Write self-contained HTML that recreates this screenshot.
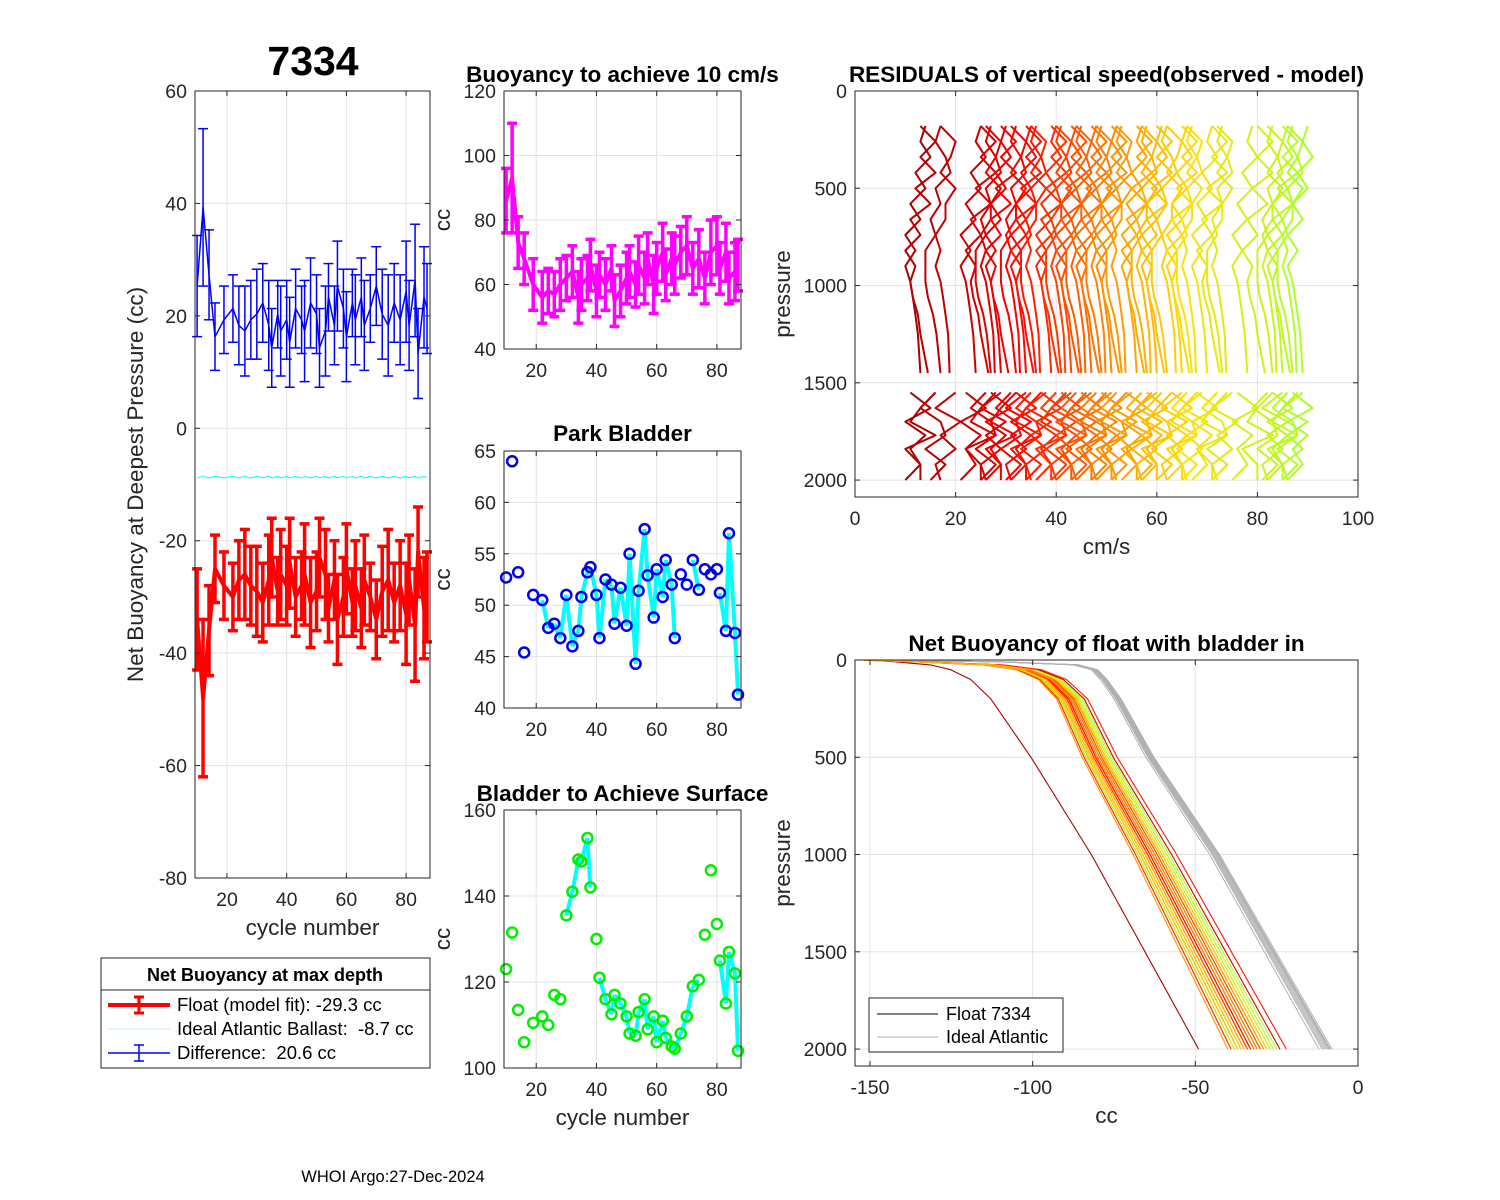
<!DOCTYPE html>
<html><head><meta charset="utf-8"><style>
html,body{margin:0;padding:0;background:#fff}
svg{display:block;font-family:"Liberation Sans",sans-serif}
</style></head><body>
<svg id="fig" width="1500" height="1200" viewBox="0 0 1500 1200" xmlns="http://www.w3.org/2000/svg">
<rect width="1500" height="1200" fill="#fff"/>
<text x="313" y="75" font-size="41" font-weight="bold" text-anchor="middle">7334</text>
<text x="393" y="1182" font-size="16.5" text-anchor="middle">WHOI Argo:27-Dec-2024</text>
</svg>
<script>
// ---------- data ----------
const cycles = [10,12,14,16,19,22,24,26,28,30,32,34,35,37,38,40,41,43,45,46,48,50,51,53,54,56,57,59,60,62,63,65,66,68,70,72,74,76,78,80,81,83,84,86,87];
const floatFit = [-34,-48,-36,-25,-28,-30,-27,-26,-28,-29,-31,-27,-23,-29,-26,-28,-24,-30,-28,-26,-31,-29,-23,-26,-32,-27,-34,-30,-25,-31,-28,-32,-27,-30,-34,-29,-27,-31,-28,-33,-27,-35,-22,-32,-30];
const floatErr = [9,14,8,6,6,6,7,8,7,8,7,8,7,6,8,7,8,7,6,9,8,7,7,8,6,7,8,7,8,6,8,7,8,6,7,8,9,7,8,9,8,10,8,9,8];
const idealBallast = -8.7;
const buoy10 = [86,93,73,68,60,56,58,57,60,62,64,56,60,62,66,58,63,60,65,55,58,62,64,60,66,62,68,60,65,70,63,68,66,70,72,65,68,62,70,72,65,70,62,64,66];
const buoy10Err = [10,17,8,8,8,8,7,7,8,7,8,8,8,7,8,8,7,8,7,8,8,8,8,7,9,8,8,9,8,9,8,8,9,8,9,8,9,8,10,9,8,9,8,9,8];
const parkBladder = [52.7,64,53.2,45.4,51,50.5,47.8,48.2,46.8,51,46,47.5,50.8,53.2,53.7,51,46.8,52.5,52,48.2,51.7,48,55,44.3,51.4,57.4,52.9,48.8,53.5,50.8,54.4,52,46.8,53,52,54.4,51.5,53.5,53,53.5,51.2,47.5,57,47.3,41.3];
const parkLink = [0,0,0,0,0,1,1,1,1,1,1,1,1,1,1,1,1,1,1,1,1,1,1,1,1,1,1,1,1,1,1,1,1,0,0,1,1,0,0,0,1,1,1,1,1];
const surfBladder = [123,131.5,113.5,106,110.5,112,110,117,116,135.5,141,148.5,148,153.5,142,130,121,116,112.5,117,115,112,108,107.5,113,116,109,112,106,111,107,105,104.5,108,112,119,120.5,131,146,133.5,125,115,127,122,104];
const surfLink = [0,0,0,0,0,0,0,0,0,1,1,1,1,1,1,0,1,1,1,1,1,1,1,1,1,1,1,1,1,1,1,1,1,1,1,1,1,0,0,0,1,1,1,1,1];
// residual profiles
const resOffset = [11,12,15,17,22,24,25,26,27,28,30,31,32,33,34,35,37,38,39,40,41,42,43,44,45,46,47,48,49,50,51,52,54,55,56,57,58,59,60,62,63,64,65,66,68,70,71,72,76,79,81,82,83,84,85,86,87];
const resTopP = [180,260,340,420,500,580,660,740,820,900,980,1060,1150,1250,1450];
const resTopA = [3,2,4,1,3,0,2,-1,1,-1,0,0.5,1,1.5,2];
const resTopB = [1,4,1,4,0,3,-1,1,-2,0,-1,-0.5,0.5,1,2.5];
const resTopC = [2,1,3,4,1,2,0,1,-1,-1,-1,-0.5,0.5,1.2,2];
const resTopD = [0,3,2,0,3,1,1,-1,0,-1,0,0.5,1,1.5,1.8];
const resBotP = [1550,1630,1700,1770,1840,1920,2000];
const resBotA = [3,-1,4,0,3,-1,0];
const resBotB = [0,4,-1,3,0,2,-1];
const resBotC = [4,1,-1,4,-2,1,1];
const resBotD = [1,-2,2,3,-1,3,0];
// net buoyancy curves
const nbP = [0,10,25,50,100,200,500,1000,1500,2000];
const nbShape = [0,0.15,0.33,0.42,0.48,0.53,0.6,0.74,0.87,1];
const idealShape = [0,0.3,0.46,0.5,0.52,0.55,0.62,0.76,0.88,1];
const outlierShape = [0,0.1,0.2,0.26,0.32,0.38,0.5,0.68,0.84,1];
const nbStart = -152;
const nbEnd = [-49,-38,-36,-34,-40,-33,-37,-35,-31,-39,-36,-34,-32,-38,-35,-30,-37,-33,-29,-36,-34,-31,-39,-35,-28,-33,-37,-32,-30,-26,-34,-36,-29,-31,-27,-33,-35,-25,-30,-28,-24,-32,-27,-22,-29];
const idealEnd = [-8,-9,-10,-9.5,-8.5,-11,-10.5,-9,-12,-8.8];

// ---------- helpers ----------
const NS="http://www.w3.org/2000/svg";
const fig=document.getElementById('fig');
function mk(tag,attrs,parent){const e=document.createElementNS(NS,tag);for(const k in attrs)e.setAttribute(k,attrs[k]);(parent||fig).appendChild(e);return e;}
function txt(s,x,y,size,anchor,parent,extra){const t=mk('text',Object.assign({x:x,y:y,'font-size':size,'text-anchor':anchor||'middle',fill:'#262626'},extra||{}),parent);t.textContent=s;return t;}
function cmap(t){const stops=[[0,170,0,0],[0.2,255,0,0],[0.5,255,140,0],[0.75,255,225,0],[1,170,255,40]];
 for(let i=1;i<stops.length;i++){if(t<=stops[i][0]){const a=stops[i-1],b=stops[i],f=(t-a[0])/(b[0]-a[0]);return `rgb(${Math.round(a[1]+(b[1]-a[1])*f)},${Math.round(a[2]+(b[2]-a[2])*f)},${Math.round(a[3]+(b[3]-a[3])*f)})`;}}return 'rgb(170,255,40)';}
const TICK=19.5, LAB=22.5, TTL=22.5;
function axes(name,o){
 const g=mk('g',{},fig);
 
 
 const sx=v=>o.x0+(v-o.xmin)/(o.xmax-o.xmin)*(o.x1-o.x0);
 const sy=o.yrev?v=>o.y0+(v-o.ymin)/(o.ymax-o.ymin)*(o.y1-o.y0):v=>o.y1-(v-o.ymin)/(o.ymax-o.ymin)*(o.y1-o.y0);
 mk('rect',{x:o.x0,y:o.y0,width:o.x1-o.x0,height:o.y1-o.y0,fill:'#fff'},g);
 const grid=mk('g',{stroke:'#e3e3e3','stroke-width':1},g);
 o.xt.forEach(v=>{const x=sx(v);mk('line',{x1:x,x2:x,y1:o.y0,y2:o.y1},grid);});
 o.yt.forEach(v=>{const y=sy(v);mk('line',{x1:o.x0,x2:o.x1,y1:y,y2:y},grid);});
 const plot=mk('g',{},g);
 const fr=mk('g',{},g);
 return {g,plot,sx,sy,finish(){
  mk('rect',{x:o.x0,y:o.y0,width:o.x1-o.x0,height:o.y1-o.y0,fill:'none',stroke:'#262626','stroke-width':1},fr);
  o.xt.forEach(v=>{const x=sx(v);mk('line',{x1:x,x2:x,y1:o.y1,y2:o.y1-5,stroke:'#262626'},fr);mk('line',{x1:x,x2:x,y1:o.y0,y2:o.y0+5,stroke:'#262626'},fr);
   const t=txt(String(v),x,o.y1+28,TICK,'middle',fr);});
  o.yt.forEach(v=>{const y=sy(v);mk('line',{x1:o.x0,x2:o.x0+5,y1:y,y2:y,stroke:'#262626'},fr);mk('line',{x1:o.x1,x2:o.x1-5,y1:y,y2:y,stroke:'#262626'},fr);
   const t=txt(String(v),o.x0-8,y+7,TICK,'end',fr);});
  if(o.title){const t=txt(o.title,(o.x0+o.x1)/2,o.ty,TTL,'middle',fr,{'font-weight':'bold',fill:'#000'});}
  if(o.xl){const t=txt(o.xl,(o.x0+o.x1)/2,o.y1+57,LAB,'middle',fr);}
  if(o.yl){const cy=(o.y0+o.y1)/2;const t=txt(o.yl,o.ylx,cy,LAB,'middle',fr,{transform:`rotate(-90 ${o.ylx} ${cy})`});}
 }};
}
function errbar(p,x,y,e,color,w,cap,sx,sy,nm){
 const g=mk('g',{stroke:color,'stroke-width':w,fill:'none'},p);
 
 
 const X=sx(x);
 mk('line',{x1:X,x2:X,y1:sy(y-e),y2:sy(y+e)},g);
 mk('line',{x1:X-cap,x2:X+cap,y1:sy(y-e),y2:sy(y-e)},g);
 mk('line',{x1:X-cap,x2:X+cap,y1:sy(y+e),y2:sy(y+e)},g);
}
function poly(p,pts,color,w,nm){const e=mk('polyline',{points:pts.map(q=>q[0].toFixed(1)+','+q[1].toFixed(1)).join(' '),fill:'none',stroke:color,'stroke-width':w,'stroke-linejoin':'round'},p);
 
 
 return e;}

// ---------- panel 1 ----------
{const A=axes('net-buoyancy-panel',{x0:195,x1:430,y0:91,y1:878,xmin:9.3,xmax:88,ymin:-80,ymax:60,xt:[20,40,60,80],yt:[-80,-60,-40,-20,0,20,40,60],xl:'cycle number',yl:'Net Buoyancy at Deepest Pressure (cc)',ylx:143});
 const diff=floatFit.map(v=>idealBallast-v);
 poly(A.plot,cycles.map((c,i)=>[A.sx(c),A.sy(diff[i])]),'#0000ff',1.5,'difference-line');
 cycles.forEach((c,i)=>errbar(A.plot,c,diff[i],floatErr[i],'#0000ff',1.5,5,A.sx,A.sy,'difference-errorbar'));
 poly(A.plot,cycles.map((c,i)=>[A.sx(c),A.sy(idealBallast+(i%2?0.15:-0.15))]),'#00ffff',1,'ideal-ballast-line');
 poly(A.plot,cycles.map((c,i)=>[A.sx(c),A.sy(floatFit[i])]),'#ff0000',4,'float-fit-line');
 cycles.forEach((c,i)=>errbar(A.plot,c,floatFit[i],floatErr[i],'#ff0000',3.5,5,A.sx,A.sy,'float-fit-errorbar'));
 A.finish();}

// ---------- panel 2 ----------
{const A=axes('buoyancy-10cms-panel',{x0:504,x1:741,y0:91,y1:349,xmin:9.3,xmax:88,ymin:40,ymax:120,xt:[20,40,60,80],yt:[40,60,80,100,120],title:'Buoyancy to achieve 10 cm/s',ty:82,yl:'cc',ylx:450});
 poly(A.plot,cycles.map((c,i)=>[A.sx(c),A.sy(buoy10[i])]),'#ff00ff',4,'buoyancy-line');
 cycles.forEach((c,i)=>errbar(A.plot,c,buoy10[i],buoy10Err[i],'#ff00ff',3.5,5,A.sx,A.sy,'buoyancy-errorbar'));
 A.finish();}

// ---------- panel 3 ----------
{const A=axes('park-bladder-panel',{x0:504,x1:741,y0:451,y1:708,xmin:9.3,xmax:88,ymin:40,ymax:65,xt:[20,40,60,80],yt:[40,45,50,55,60,65],title:'Park Bladder',ty:441,yl:'cc',ylx:450});
 for(let i=1;i<cycles.length;i++){if(parkLink[i]&&parkLink[i-1])poly(A.plot,[[A.sx(cycles[i-1]),A.sy(parkBladder[i-1])],[A.sx(cycles[i]),A.sy(parkBladder[i])]],'#00ffff',4,'park-line-segment');}
 cycles.forEach((c,i)=>{const e=mk('circle',{cx:A.sx(c),cy:A.sy(parkBladder[i]),r:5,fill:'none',stroke:'#0000ee','stroke-width':2.5},A.plot);
  
  });
 A.finish();}

// ---------- panel 4 ----------
{const A=axes('surface-bladder-panel',{x0:504,x1:741,y0:810,y1:1068,xmin:9.3,xmax:88,ymin:100,ymax:160,xt:[20,40,60,80],yt:[100,120,140,160],title:'Bladder to Achieve Surface',ty:801,xl:'cycle number',yl:'cc',ylx:450});
 for(let i=1;i<cycles.length;i++){if(surfLink[i]&&surfLink[i-1])poly(A.plot,[[A.sx(cycles[i-1]),A.sy(surfBladder[i-1])],[A.sx(cycles[i]),A.sy(surfBladder[i])]],'#00ffff',4,'surface-line-segment');}
 cycles.forEach((c,i)=>{const e=mk('circle',{cx:A.sx(c),cy:A.sy(surfBladder[i]),r:5,fill:'none',stroke:'#00ee00','stroke-width':2.5},A.plot);
  
  });
 A.finish();}

// ---------- panel 5 ----------
{const A=axes('residuals-panel',{x0:855,x1:1358,y0:91,y1:497,xmin:0,xmax:100,ymin:0,ymax:2087,yrev:true,xt:[0,20,40,60,80,100],yt:[0,500,1000,1500,2000],title:'RESIDUALS of vertical speed(observed - model)',ty:82,xl:'cm/s',yl:'pressure',ylx:790});
 const tops=[resTopA,resTopB,resTopC,resTopD],bots=[resBotA,resBotB,resBotC,resBotD];
 const n=resOffset.length;
 resOffset.forEach((o,i)=>{const col=cmap(i/(n-1));
  const t=tops[i%4];poly(A.plot,resTopP.map((p,j)=>[A.sx(o+t[j]),A.sy(p)]),col,2,'residual-profile-top');
  const b=bots[(i+1)%4];poly(A.plot,resBotP.map((p,j)=>[A.sx(o+b[j]),A.sy(p)]),col,2,'residual-profile-bottom');});
 A.finish();}

// ---------- panel 6 ----------
{const A=axes('net-buoyancy-profile-panel',{x0:855,x1:1358,y0:660,y1:1066,xmin:-154.6,xmax:0,ymin:0,ymax:2087,yrev:true,xt:[-150,-100,-50,0],yt:[0,500,1000,1500,2000],title:'Net Buoyancy of float with bladder in',ty:651,xl:'cc',yl:'pressure',ylx:790});
 idealEnd.forEach(E=>poly(A.plot,nbP.map((p,j)=>[A.sx(nbStart+(E-nbStart)*idealShape[j]),A.sy(p)]),'#b0b0b0',1,'ideal-atlantic-curve'));
 const n=nbEnd.length;
 nbEnd.forEach((E,i)=>{const sh=i===0?outlierShape:nbShape;const ci=i===0?0:((i*17)%n)/(n-1);
  poly(A.plot,nbP.map((p,j)=>[A.sx(nbStart+(E-nbStart)*sh[j]),A.sy(p)]),cmap(ci),1.1,'float-curve');});
 const lg=mk('g',{},A.plot);
 
 
 mk('rect',{x:869,y:998,width:194,height:54,fill:'#fff',stroke:'#262626','stroke-width':1},lg);
 mk('line',{x1:877,x2:938,y1:1014,y2:1014,stroke:'#000','stroke-width':1},lg);
 mk('line',{x1:877,x2:938,y1:1037,y2:1037,stroke:'#b0b0b0','stroke-width':1},lg);
 txt('Float 7334',946,1020,18,'start',lg,{fill:'#000'});
 txt('Ideal Atlantic',946,1043,18,'start',lg,{fill:'#000'});
 A.finish();}

// ---------- bottom-left legend ----------
{const g=mk('g',{},fig);
 
 
 mk('rect',{x:101,y:958,width:329,height:110,fill:'#fff',stroke:'#262626','stroke-width':1},g);
 mk('line',{x1:101,x2:430,y1:990,y2:990,stroke:'#262626','stroke-width':1},g);
 txt('Net Buoyancy at max depth',265,981,18,'middle',g,{'font-weight':'bold',fill:'#000'});
 mk('line',{x1:108,x2:170,y1:1005,y2:1005,stroke:'#ff0000','stroke-width':4},g);
 mk('line',{x1:139,x2:139,y1:997,y2:1013,stroke:'#ff0000','stroke-width':3},g);
 mk('line',{x1:134,x2:144,y1:997,y2:997,stroke:'#ff0000','stroke-width':3},g);
 mk('line',{x1:134,x2:144,y1:1013,y2:1013,stroke:'#ff0000','stroke-width':3},g);
 mk('line',{x1:108,x2:170,y1:1029,y2:1029,stroke:'#c8e8e8','stroke-width':1},g);
 mk('line',{x1:108,x2:170,y1:1053,y2:1053,stroke:'#0000ff','stroke-width':1.5},g);
 mk('line',{x1:139,x2:139,y1:1045,y2:1061,stroke:'#0000ff','stroke-width':1.5},g);
 mk('line',{x1:134,x2:144,y1:1045,y2:1045,stroke:'#0000ff','stroke-width':1.5},g);
 mk('line',{x1:134,x2:144,y1:1061,y2:1061,stroke:'#0000ff','stroke-width':1.5},g);
 txt('Float (model fit): -29.3 cc',177,1011,18.5,'start',g,{fill:'#000'});
 txt('Ideal Atlantic Ballast:\u00a0 -8.7 cc',177,1035,18.5,'start',g,{fill:'#000'});
 txt('Difference:\u00a0 20.6 cc',177,1059,18.5,'start',g,{fill:'#000'});}
</script>
</body></html>
